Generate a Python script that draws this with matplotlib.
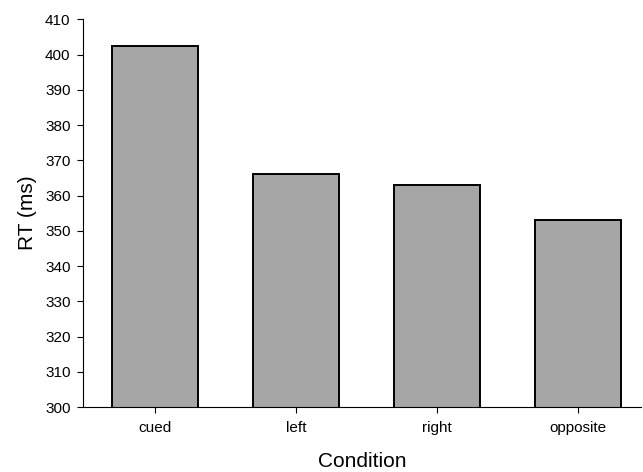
import matplotlib
matplotlib.use("Agg")
import matplotlib.pyplot as plt

conditions = ["cued", "left", "right", "opposite"]
rt_values = [402.4, 366.1, 363.0, 353.0]
y_ticks = list(range(300, 411, 10))

plt.rcParams['font.family'] = ['Liberation Sans', 'DejaVu Sans']

fig = plt.figure(figsize=(6.43, 4.72), dpi=100)
ax = fig.add_axes([0.1291, 0.1377, 0.8678, 0.8214])
x = range(len(conditions))
ax.bar(x, rt_values, width=0.61, color='#a6a6a6', edgecolor='black', linewidth=1.4, bottom=0)
ax.set_ylim(300, 410)
ax.set_xlim(-0.51, 3.447)
ax.set_yticks(y_ticks)
ax.set_xticks(list(x))
ax.set_xticklabels(conditions, fontsize=11)
ax.tick_params(axis='y', labelsize=11, length=4, width=0.8, direction='out', pad=5)
ax.tick_params(axis='x', length=4, width=0.8, direction='out', pad=6)
for s in ['top', 'right']:
    ax.spines[s].set_visible(False)
ax.spines['left'].set_linewidth(0.8)
ax.spines['bottom'].set_linewidth(0.8)
ax.set_ylabel("RT (ms)", fontsize=15, labelpad=6)
ax.set_xlabel("Condition", fontsize=15, labelpad=12)
fig.savefig("out.png", dpi=100)
